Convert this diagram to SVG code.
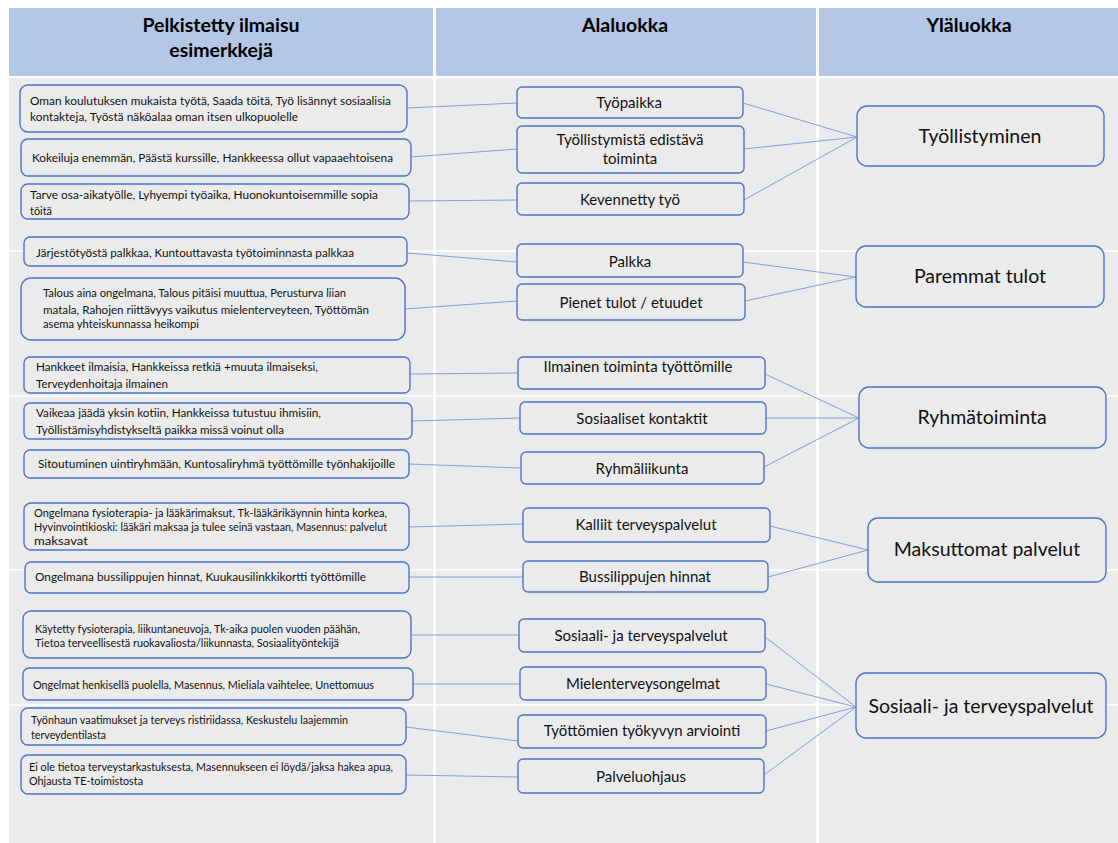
<svg xmlns="http://www.w3.org/2000/svg" width="1118" height="843" viewBox="0 0 1118 843">
<style>
.hdr{fill:#b4c7e7}
.cell{fill:#ebebeb}
.rowline{stroke:#ffffff;stroke-width:1.5}
.ex rect{fill:#ebebeb;stroke:#4a76c8;stroke-width:1.4}
.sub rect{fill:#ebebeb;stroke:#4a76c8;stroke-width:1.4}
.top rect{fill:#ebebeb;stroke:#4a76c8;stroke-width:1.4}
.ht{font-family:Lato,"Liberation Sans",sans-serif;font-weight:bold;font-size:19.5px;fill:#000;text-anchor:middle}
.et{font-family:Lato,"Liberation Sans",sans-serif;font-size:11px;fill:#111}
.st{font-family:Lato,"Liberation Sans",sans-serif;font-size:15px;fill:#111;text-anchor:middle}
.tt{font-family:Lato,"Liberation Sans",sans-serif;font-size:19.5px;fill:#111;text-anchor:middle}
#connectors line{stroke:#7f9fdc;stroke-width:1}
</style>
<rect width="1118" height="843" fill="#ffffff"/>
<g id="table">
<rect class="hdr" x="9" y="8" width="424" height="68"/>
<rect class="hdr" x="436" y="8" width="380" height="68"/>
<rect class="hdr" x="819" y="8" width="299" height="68"/>
<rect class="cell" x="9" y="78" width="424" height="765"/>
<rect class="cell" x="436" y="78" width="380" height="765"/>
<rect class="cell" x="819" y="78" width="299" height="765"/>
<line class="rowline" x1="9" y1="251" x2="1118" y2="251"/>
<line class="rowline" x1="9" y1="396" x2="1118" y2="396"/>
<line class="rowline" x1="9" y1="570" x2="1118" y2="570"/>
<line class="rowline" x1="9" y1="705" x2="1118" y2="705"/>
<text class="ht" x="221" y="32">Pelkistetty ilmaisu</text>
<text class="ht" x="221" y="57">esimerkkejä</text>
<text class="ht" x="625" y="32">Alaluokka</text>
<text class="ht" x="969" y="32">Yläluokka</text>
</g>
<g id="connectors">
<line x1="407" y1="108" x2="517" y2="103"/>
<line x1="411" y1="157" x2="517" y2="149"/>
<line x1="409" y1="201" x2="517" y2="200"/>
<line x1="407" y1="253" x2="517" y2="262"/>
<line x1="405" y1="309" x2="517" y2="301"/>
<line x1="410" y1="374" x2="518" y2="373"/>
<line x1="412" y1="421" x2="520" y2="418"/>
<line x1="409" y1="464" x2="521" y2="468"/>
<line x1="409" y1="527" x2="523" y2="524"/>
<line x1="409" y1="577" x2="523" y2="577"/>
<line x1="411" y1="635" x2="519" y2="635"/>
<line x1="413" y1="684" x2="520" y2="684"/>
<line x1="406" y1="727" x2="518" y2="741"/>
<line x1="406" y1="775" x2="518" y2="777"/>
<line x1="743" y1="103" x2="857" y2="137"/>
<line x1="744" y1="149" x2="857" y2="137"/>
<line x1="744" y1="200" x2="857" y2="137"/>
<line x1="743" y1="262" x2="856" y2="277"/>
<line x1="745" y1="301" x2="856" y2="277"/>
<line x1="765" y1="374" x2="859" y2="418"/>
<line x1="766" y1="418" x2="859" y2="418"/>
<line x1="764" y1="467" x2="859" y2="418"/>
<line x1="770" y1="526" x2="868" y2="550"/>
<line x1="768" y1="577" x2="868" y2="550"/>
<line x1="765" y1="637" x2="856" y2="707"/>
<line x1="766" y1="684" x2="856" y2="707"/>
<line x1="766" y1="731" x2="856" y2="707"/>
<line x1="764" y1="775" x2="856" y2="707"/>
</g>
<g id="ex1" class="ex"><rect x="20" y="85" width="387" height="47" rx="8"/>
<text class="et" x="30" y="105" textLength="361" lengthAdjust="spacingAndGlyphs">Oman koulutuksen mukaista työtä, Saada töitä, Työ lisännyt sosiaalisia</text>
<text class="et" x="30" y="121" textLength="268" lengthAdjust="spacingAndGlyphs">kontakteja, Työstä näköalaa oman itsen ulkopuolelle</text></g>
<g id="ex2" class="ex"><rect x="21" y="139" width="390" height="37" rx="7"/>
<text class="et" x="32" y="162" textLength="361" lengthAdjust="spacingAndGlyphs">Kokeiluja enemmän, Päästä kurssille, Hankkeessa ollut vapaaehtoisena</text></g>
<g id="ex3" class="ex"><rect x="21" y="184" width="388" height="35" rx="7"/>
<text class="et" x="30" y="199" textLength="348" lengthAdjust="spacingAndGlyphs">Tarve osa-aikatyölle, Lyhyempi työaika, Huonokuntoisemmille sopia</text>
<text class="et" x="30" y="215" textLength="22" lengthAdjust="spacingAndGlyphs">töitä</text></g>
<g id="ex4" class="ex"><rect x="24" y="237" width="383" height="29" rx="6"/>
<text class="et" x="36" y="257" textLength="318" lengthAdjust="spacingAndGlyphs">Järjestötyöstä palkkaa, Kuntouttavasta työtoiminnasta palkkaa</text></g>
<g id="ex5" class="ex"><rect x="21" y="278" width="384" height="62" rx="10"/>
<text class="et" x="43" y="297" textLength="303" lengthAdjust="spacingAndGlyphs">Talous aina ongelmana, Talous pitäisi muuttua, Perusturva liian</text>
<text class="et" x="43" y="314" textLength="326" lengthAdjust="spacingAndGlyphs">matala, Rahojen riittävyys vaikutus mielenterveyteen,  Työttömän</text>
<text class="et" x="43" y="328" textLength="156" lengthAdjust="spacingAndGlyphs">asema yhteiskunnassa heikompi</text></g>
<g id="ex6" class="ex"><rect x="24" y="357" width="386" height="36" rx="6"/>
<text class="et" x="36" y="371" textLength="282" lengthAdjust="spacingAndGlyphs">Hankkeet ilmaisia, Hankkeissa retkiä +muuta ilmaiseksi,</text>
<text class="et" x="36" y="388" textLength="132" lengthAdjust="spacingAndGlyphs">Terveydenhoitaja ilmainen</text></g>
<g id="ex7" class="ex"><rect x="24" y="403" width="388" height="36" rx="6"/>
<text class="et" x="36" y="417" textLength="285" lengthAdjust="spacingAndGlyphs">Vaikeaa jäädä yksin kotiin, Hankkeissa tutustuu ihmisiin,</text>
<text class="et" x="36" y="434" textLength="248" lengthAdjust="spacingAndGlyphs">Työllistämisyhdistykseltä paikka missä voinut olla</text></g>
<g id="ex8" class="ex"><rect x="24" y="450" width="385" height="28" rx="6"/>
<text class="et" x="38" y="468" textLength="357" lengthAdjust="spacingAndGlyphs">Sitoutuminen uintiryhmään, Kuntosaliryhmä työttömille työnhakijoille</text></g>
<g id="ex9" class="ex"><rect x="24" y="503" width="385" height="47" rx="7"/>
<text class="et" x="34" y="517" font-size="10.5" textLength="353" lengthAdjust="spacingAndGlyphs">Ongelmana fysioterapia- ja lääkärimaksut, Tk-lääkärikäynnin hinta korkea,</text>
<text class="et" x="34" y="531" font-size="10.5" textLength="353" lengthAdjust="spacingAndGlyphs">Hyvinvointikioski: lääkäri maksaa ja tulee seinä vastaan, Masennus: palvelut</text>
<text class="et" x="34" y="545" font-size="10.5" textLength="54" lengthAdjust="spacingAndGlyphs">maksavat</text></g>
<g id="ex10" class="ex"><rect x="25" y="562" width="384" height="31" rx="6"/>
<text class="et" x="35" y="581" textLength="331" lengthAdjust="spacingAndGlyphs">Ongelmana bussilippujen hinnat, Kuukausilinkkikortti työttömille</text></g>
<g id="ex11" class="ex"><rect x="23" y="611" width="388" height="47" rx="8"/>
<text class="et" x="35" y="633" font-size="10.5" textLength="325" lengthAdjust="spacingAndGlyphs">Käytetty fysioterapia, liikuntaneuvoja, Tk-aika puolen vuoden päähän,</text>
<text class="et" x="35" y="647" font-size="10.5" textLength="304" lengthAdjust="spacingAndGlyphs">Tietoa terveellisestä ruokavaliosta/liikunnasta, Sosiaalityöntekijä</text></g>
<g id="ex12" class="ex"><rect x="23" y="668" width="390" height="32" rx="6"/>
<text class="et" x="33" y="689" font-size="10.5" textLength="341" lengthAdjust="spacingAndGlyphs">Ongelmat henkisellä puolella, Masennus, Mieliala vaihtelee, Unettomuus</text></g>
<g id="ex13" class="ex"><rect x="21" y="708" width="385" height="37" rx="7"/>
<text class="et" x="31" y="724" font-size="10.5" textLength="317" lengthAdjust="spacingAndGlyphs">Työnhaun vaatimukset ja terveys ristiriidassa, Keskustelu laajemmin</text>
<text class="et" x="31" y="739" font-size="10.5" textLength="75" lengthAdjust="spacingAndGlyphs">terveydentilasta</text></g>
<g id="ex14" class="ex"><rect x="21" y="755" width="385" height="39" rx="7"/>
<text class="et" x="29" y="771" font-size="10.5" textLength="364" lengthAdjust="spacingAndGlyphs">Ei ole tietoa terveystarkastuksesta, Masennukseen ei löydä/jaksa hakea apua,</text>
<text class="et" x="29" y="785" font-size="10.5" textLength="114" lengthAdjust="spacingAndGlyphs">Ohjausta TE-toimistosta</text></g>
<g id="sub1" class="sub"><rect x="517" y="87" width="226" height="31" rx="5"/><text class="st" x="629" y="108" font-size="14.5">Työpaikka</text></g>
<g id="sub2" class="sub"><rect x="517" y="126" width="227" height="47" rx="5"/><text class="st" x="630" y="145" font-size="14.5">Työllistymistä edistävä</text><text class="st" x="630" y="164" font-size="14.5">toiminta</text></g>
<g id="sub3" class="sub"><rect x="517" y="183" width="227" height="32" rx="5"/><text class="st" x="630" y="205" font-size="14.5">Kevennetty työ</text></g>
<g id="sub4" class="sub"><rect x="517" y="244" width="226" height="33" rx="5"/><text class="st" x="630" y="267">Palkka</text></g>
<g id="sub5" class="sub"><rect x="517" y="284" width="228" height="36" rx="5"/><text class="st" x="631" y="308">Pienet tulot / etuudet</text></g>
<g id="sub6" class="sub"><rect x="518" y="357" width="247" height="32" rx="5"/><text class="st" x="638" y="372">Ilmainen toiminta työttömille</text></g>
<g id="sub7" class="sub"><rect x="520" y="402" width="246" height="32" rx="5"/><text class="st" x="642" y="424">Sosiaaliset kontaktit</text></g>
<g id="sub8" class="sub"><rect x="521" y="452" width="243" height="32" rx="5"/><text class="st" x="642" y="474">Ryhmäliikunta</text></g>
<g id="sub9" class="sub"><rect x="523" y="508" width="247" height="34" rx="5"/><text class="st" x="646" y="530">Kalliit terveyspalvelut</text></g>
<g id="sub10" class="sub"><rect x="523" y="561" width="245" height="31" rx="5"/><text class="st" x="645" y="582">Bussilippujen hinnat</text></g>
<g id="sub11" class="sub"><rect x="519" y="619" width="246" height="33" rx="5"/><text class="st" x="641" y="641">Sosiaali- ja terveyspalvelut</text></g>
<g id="sub12" class="sub"><rect x="520" y="667" width="246" height="33" rx="5"/><text class="st" x="643" y="689">Mielenterveysongelmat</text></g>
<g id="sub13" class="sub"><rect x="518" y="715" width="248" height="33" rx="5"/><text class="st" x="642" y="736">Työttömien työkyvyn arviointi</text></g>
<g id="sub14" class="sub"><rect x="518" y="759" width="246" height="34" rx="5"/><text class="st" x="641" y="782">Palveluohjaus</text></g>
<g id="top1" class="top"><rect x="857" y="106" width="247" height="60" rx="10"/><text class="tt" x="980" y="143">Työllistyminen</text></g>
<g id="top2" class="top"><rect x="856" y="246" width="248" height="61" rx="10"/><text class="tt" x="980" y="283">Paremmat tulot</text></g>
<g id="top3" class="top"><rect x="859" y="387" width="247" height="61" rx="10"/><text class="tt" x="982" y="424">Ryhmätoiminta</text></g>
<g id="top4" class="top"><rect x="868" y="518" width="238" height="64" rx="10"/><text class="tt" x="987" y="556">Maksuttomat palvelut</text></g>
<g id="top5" class="top"><rect x="856" y="673" width="250" height="65" rx="10"/><text class="tt" x="981" y="713">Sosiaali- ja terveyspalvelut</text></g>
</svg>
